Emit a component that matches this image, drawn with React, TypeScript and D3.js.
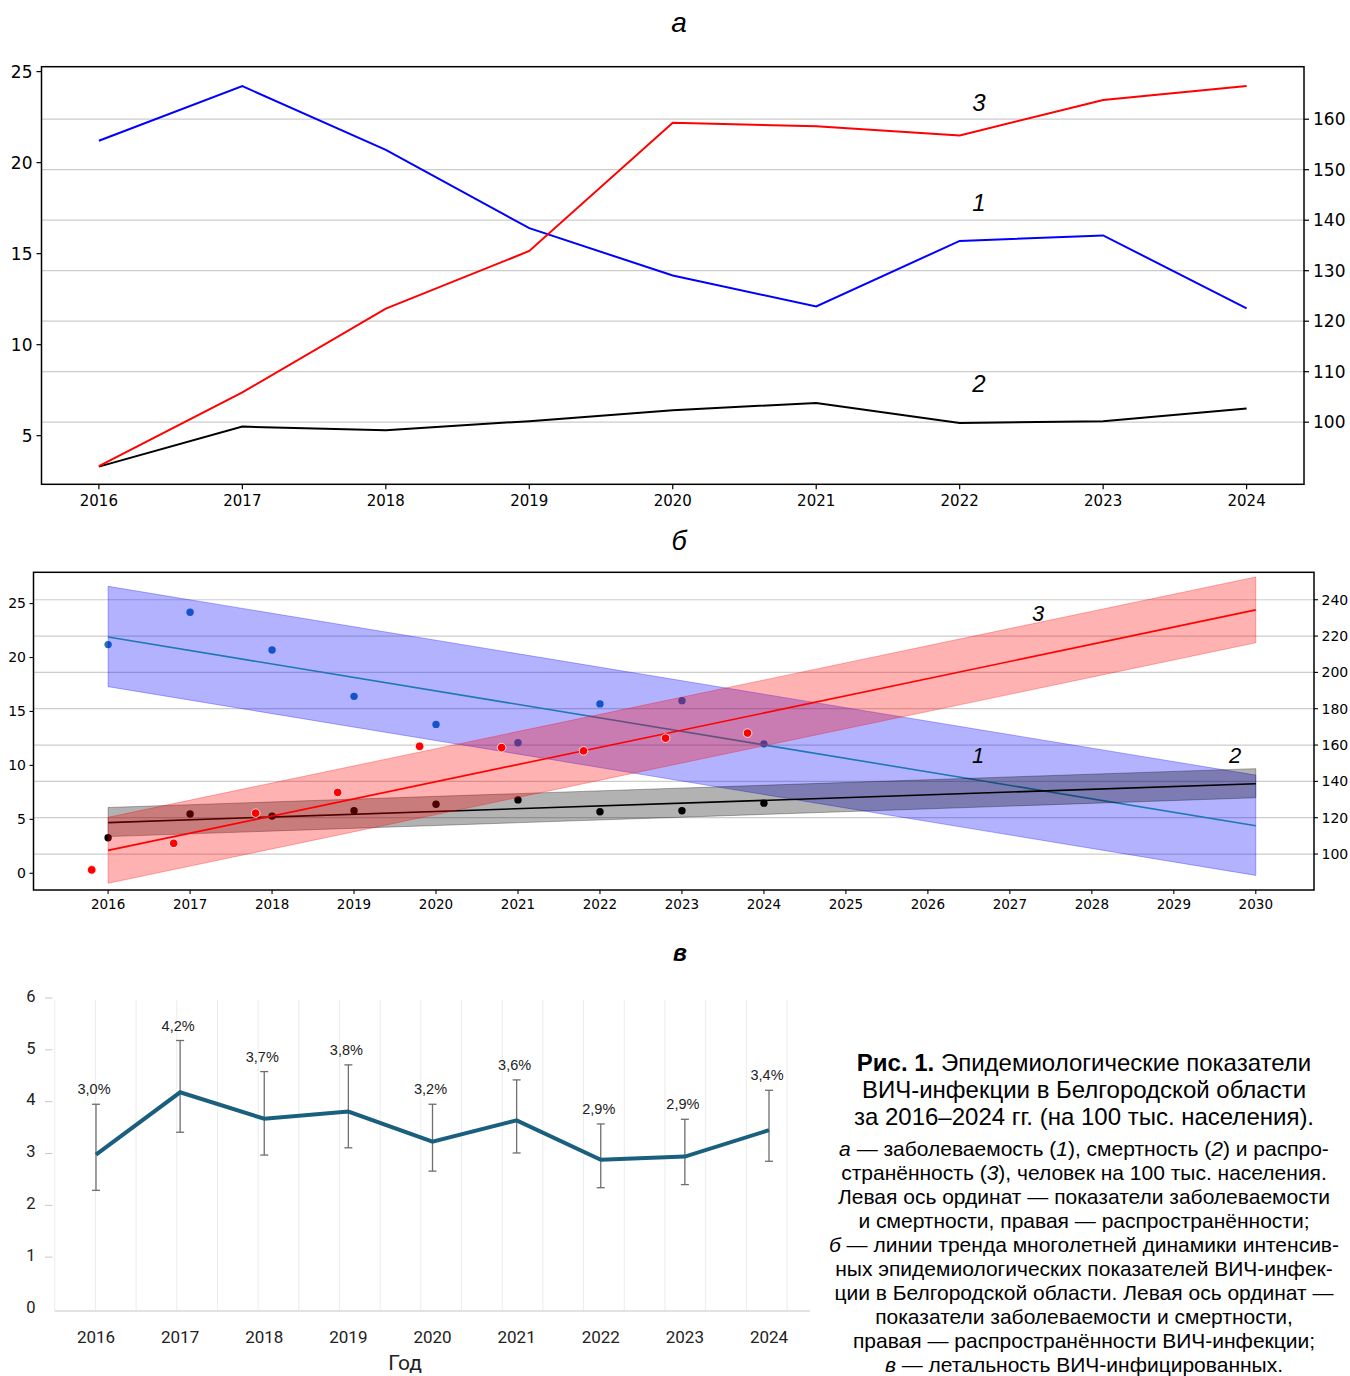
import React from 'react';
import * as d3 from 'd3';

// --- data ---
const years = [2016, 2017, 2018, 2019, 2020, 2021, 2022, 2023, 2024];
const incidence = [21.2, 24.2, 20.7, 16.4, 13.8, 12.1, 15.7, 16.0, 12.0];
const mortality = [3.3, 5.5, 5.3, 5.8, 6.4, 6.8, 5.7, 5.8, 6.5];
const prevalence = [91.3, 105.9, 122.5, 133.9, 159.3, 158.6, 156.8, 163.8, 166.6];

const trendYears = [2016, 2030];
const forecastYears = [2016, 2017, 2018, 2019, 2020, 2021, 2022, 2023, 2024, 2025, 2026, 2027, 2028, 2029, 2030];
const incidenceTrend = [21.9, 4.4];
const incidenceLow = [17.3, -0.2];
const incidenceHigh = [26.6, 9.1];
const mortalityTrend = [4.7, 8.3];
const mortalityLow = [3.4, 7.0];
const mortalityHigh = [6.1, 9.7];
const prevalenceTrend = [102.0, 234.4];
const prevalenceLow = [83.9, 216.3];
const prevalenceHigh = [120.2, 252.5];
const prevalenceShift = 0.2; // red points are drawn 0.2 year to the left

const fatality = [2.98, 4.18, 3.67, 3.81, 3.23, 3.64, 2.88, 2.94, 3.45];
const fatalityLow = [2.29, 3.41, 2.97, 3.11, 2.66, 3.01, 2.34, 2.40, 2.85];
const fatalityHigh = [3.95, 5.18, 4.58, 4.71, 3.95, 4.42, 3.57, 3.66, 4.22];
const fatalityLabels = ['3,0%', '4,2%', '3,7%', '3,8%', '3,2%', '3,6%', '2,9%', '2,9%', '3,4%'];

const aLeftTicks = [5, 10, 15, 20, 25];
const aRightTicks = [100, 110, 120, 130, 140, 150, 160];
const bLeftTicks = [0, 5, 10, 15, 20, 25];
const bRightTicks = [100, 120, 140, 160, 180, 200, 220, 240];
const cTicks = [0, 1, 2, 3, 4, 5, 6];

const MPL = '"DejaVu Sans", sans-serif';
const ARIAL = '"Liberation Sans", Arial, sans-serif';

export default function App() {
  // ---------- panel а ----------
  const aL = 41.5, aR = 1304, aT = 66.7, aB = 484.3;
  const aX = d3.scaleLinear().domain([2015.6, 2024.4]).range([aL, aR]);
  const aYL = d3.scaleLinear().domain([2.33, 25.27]).range([aB, aT]);
  const aYR = d3.scaleLinear().domain([87.7, 170.4]).range([aB, aT]);
  const aLineL = d3.line<number>().x((_, i) => aX(years[i])).y(d => aYL(d));
  const aLineR = d3.line<number>().x((_, i) => aX(years[i])).y(d => aYR(d));

  // ---------- panel б ----------
  const bL = 33.5, bR = 1314, bT = 572.3, bB = 890;
  const bX = d3.scaleLinear().domain([2015.09, 2030.71]).range([bL, bR]);
  const bYL = d3.scaleLinear().domain([-1.55, 27.9]).range([bB, bT]);
  const bYR = d3.scaleLinear().domain([80.2, 255.1]).range([bB, bT]);
  const trendLine = (y: d3.ScaleLinear<number, number>) =>
    d3.line<number>().x((_, i) => bX(trendYears[i])).y(d => y(d));
  const band = (y: d3.ScaleLinear<number, number>, lo: number[], hi: number[]) =>
    d3.area<number>().x((_, i) => bX(trendYears[i])).y0((_, i) => y(lo[i])).y1((_, i) => y(hi[i]))([0, 1]) || '';

  // ---------- panel в ----------
  const cL = 54.7, cR = 787, cT = 1000, cB = 1311;
  const cX = d3.scaleLinear().domain([2016, 2024]).range([96, 769]);
  const cY = d3.scaleLinear().domain([0, 6]).range([1309, 998]);
  const cGrid = d3.scaleLinear().domain([0, 18]).range([cL, cR]);
  const cLine = d3.line<number>().x((_, i) => cX(years[i])).y(d => cY(d));

  const capBig = 24;
  const capSmall = 21;

  return (
    <svg width={1350} height={1376} style={{ position: 'absolute', left: 0, top: 0, background: '#fff' }}>
      <defs>
        <clipPath id="clipB"><rect x={bL} y={bT} width={bR - bL} height={bB - bT} /></clipPath>
      </defs>

      {/* ===== panel а ===== */}
      <text x={679} y={22} dy="0.35em" textAnchor="middle" fontFamily={ARIAL} fontStyle="italic" fontSize={28}>а</text>
      {aRightTicks.map(t => (
        <line key={'ag' + t} x1={aL} x2={aR} y1={aYR(t)} y2={aYR(t)} stroke="#cccccc" strokeWidth={1.2} />
      ))}
      <path d={aLineL(incidence) || ''} fill="none" stroke="#0000ff" strokeWidth={2} />
      <path d={aLineL(mortality) || ''} fill="none" stroke="#000" strokeWidth={2} />
      <path d={aLineR(prevalence) || ''} fill="none" stroke="#ff0000" strokeWidth={2} />
      <rect x={aL} y={aT} width={aR - aL} height={aB - aT} fill="none" stroke="#000" strokeWidth={1.5} />
      {years.map(y => (
        <g key={'ax' + y}>
          <line x1={aX(y)} x2={aX(y)} y1={aB} y2={aB + 5} stroke="#000" strokeWidth={1.2} />
          <text x={aX(y)} y={501} dy="0.35em" textAnchor="middle" fontFamily={MPL} fontSize={15}>{y}</text>
        </g>
      ))}
      {aLeftTicks.map(t => (
        <g key={'al' + t}>
          <line x1={aL - 5} x2={aL} y1={aYL(t)} y2={aYL(t)} stroke="#000" strokeWidth={1.2} />
          <text x={aL - 9} y={aYL(t)} dy="0.35em" textAnchor="end" fontFamily={MPL} fontSize={17}>{t}</text>
        </g>
      ))}
      {aRightTicks.map(t => (
        <g key={'ar' + t}>
          <line x1={aR} x2={aR + 5} y1={aYR(t)} y2={aYR(t)} stroke="#000" strokeWidth={1.2} />
          <text x={aR + 9} y={aYR(t)} dy="0.35em" textAnchor="start" fontFamily={MPL} fontSize={17}>{t}</text>
        </g>
      ))}
      <text x={979} y={103} dy="0.35em" textAnchor="middle" fontFamily={ARIAL} fontStyle="italic" fontSize={24}>3</text>
      <text x={979} y={203} dy="0.35em" textAnchor="middle" fontFamily={ARIAL} fontStyle="italic" fontSize={24}>1</text>
      <text x={979} y={384} dy="0.35em" textAnchor="middle" fontFamily={ARIAL} fontStyle="italic" fontSize={24}>2</text>

      {/* ===== panel б ===== */}
      <text x={679} y={541} dy="0.35em" textAnchor="middle" fontFamily={ARIAL} fontStyle="italic" fontSize={27}>б</text>
      {bRightTicks.map(t => (
        <line key={'bg' + t} x1={bL} x2={bR} y1={bYR(t)} y2={bYR(t)} stroke="#cccccc" strokeWidth={1.2} />
      ))}
      <g clipPath="url(#clipB)">
        {/* left axis: incidence and mortality */}
        {incidence.map((v, i) => (
          <circle key={'bi' + i} cx={bX(years[i])} cy={bYL(v)} r={3.7} fill="#1f77b4" />
        ))}
        {mortality.map((v, i) => (
          <circle key={'bm' + i} cx={bX(years[i])} cy={bYL(v)} r={3.7} fill="#000" />
        ))}
        <path d={band(bYL, incidenceLow, incidenceHigh)} fill="#0000ff" fillOpacity={0.3} stroke="#0000ff" strokeOpacity={0.3} strokeWidth={1} />
        <path d={trendLine(bYL)(incidenceTrend) || ''} fill="none" stroke="#1f77b4" strokeWidth={1.6} />
        <path d={band(bYL, mortalityLow, mortalityHigh)} fill="#000" fillOpacity={0.3} stroke="#000" strokeOpacity={0.3} strokeWidth={1} />
        <path d={trendLine(bYL)(mortalityTrend) || ''} fill="none" stroke="#000" strokeWidth={1.6} />
        {/* right axis: prevalence */}
        <path d={band(bYR, prevalenceLow, prevalenceHigh)} fill="#ff0000" fillOpacity={0.3} stroke="#ff0000" strokeOpacity={0.3} strokeWidth={1} />
        <path d={trendLine(bYR)(prevalenceTrend) || ''} fill="none" stroke="#ff0000" strokeWidth={1.6} />
        {prevalence.map((v, i) => (
          <circle key={'bp' + i} cx={bX(years[i] - prevalenceShift)} cy={bYR(v)} r={4.3} fill="#ff0000" stroke="#fff" strokeWidth={0.8} />
        ))}
      </g>
      <rect x={bL} y={bT} width={bR - bL} height={bB - bT} fill="none" stroke="#000" strokeWidth={1.5} />
      {forecastYears.map(y => (
        <g key={'bx' + y}>
          <line x1={bX(y)} x2={bX(y)} y1={bB} y2={bB + 4} stroke="#000" strokeWidth={1.1} />
          <text x={bX(y)} y={904} dy="0.35em" textAnchor="middle" fontFamily={MPL} fontSize={13.5}>{y}</text>
        </g>
      ))}
      {bLeftTicks.map(t => (
        <g key={'bl' + t}>
          <line x1={bL - 4} x2={bL} y1={bYL(t)} y2={bYL(t)} stroke="#000" strokeWidth={1.1} />
          <text x={bL - 7.5} y={bYL(t)} dy="0.35em" textAnchor="end" fontFamily={MPL} fontSize={14}>{t}</text>
        </g>
      ))}
      {bRightTicks.map(t => (
        <g key={'br' + t}>
          <line x1={bR} x2={bR + 4} y1={bYR(t)} y2={bYR(t)} stroke="#000" strokeWidth={1.1} />
          <text x={bR + 7.5} y={bYR(t)} dy="0.35em" textAnchor="start" fontFamily={MPL} fontSize={14}>{t}</text>
        </g>
      ))}
      <text x={1038} y={613} dy="0.35em" textAnchor="middle" fontFamily={ARIAL} fontStyle="italic" fontSize={22}>3</text>
      <text x={978} y={755} dy="0.35em" textAnchor="middle" fontFamily={ARIAL} fontStyle="italic" fontSize={22}>1</text>
      <text x={1235} y={755} dy="0.35em" textAnchor="middle" fontFamily={ARIAL} fontStyle="italic" fontSize={22}>2</text>

      {/* ===== panel в ===== */}
      <text x={680} y={953} dy="0.35em" textAnchor="middle" fontFamily={ARIAL} fontStyle="italic" fontWeight="bold" fontSize={23}>в</text>
      {d3.range(0, 19).map(k => (
        <line key={'cg' + k} x1={cGrid(k)} x2={cGrid(k)} y1={cT} y2={cB} stroke="#ececec" strokeWidth={1} />
      ))}
      <line x1={cL} x2={810} y1={cB} y2={cB} stroke="#d9d9d9" strokeWidth={1.5} />
      {cTicks.map(t => (
        <g key={'ct' + t}>
          {t > 0 && <line x1={45} x2={52.5} y1={cY(t)} y2={cY(t)} stroke="#c8c8c8" strokeWidth={1} />}
          <text x={31} y={cY(t) - 2} dy="0.35em" textAnchor="middle" fontFamily="Roboto, sans-serif" fontSize={16.5} fill="#222">{t}</text>
        </g>
      ))}
      {fatality.map((v, i) => (
        <g key={'ce' + i} stroke="#6e6e6e" strokeWidth={1.3}>
          <line x1={cX(years[i])} x2={cX(years[i])} y1={cY(fatalityLow[i])} y2={cY(fatalityHigh[i])} />
          <line x1={cX(years[i]) - 4} x2={cX(years[i]) + 4} y1={cY(fatalityLow[i])} y2={cY(fatalityLow[i])} />
          <line x1={cX(years[i]) - 4} x2={cX(years[i]) + 4} y1={cY(fatalityHigh[i])} y2={cY(fatalityHigh[i])} />
        </g>
      ))}
      <path d={cLine(fatality) || ''} fill="none" stroke="#1b5f7f" strokeWidth={4} strokeLinejoin="miter" />
      {fatalityLabels.map((l, i) => (
        <text key={'cl' + i} x={cX(years[i]) - 2} y={cY(fatalityHigh[i]) - 15} dy="0.35em" textAnchor="middle" fontFamily={ARIAL} fontSize={14.5} fill="#222">{l}</text>
      ))}
      {years.map(y => (
        <text key={'cx' + y} x={cX(y)} y={1337} dy="0.35em" textAnchor="middle" fontFamily="Roboto, sans-serif" fontSize={17} fill="#222">{y}</text>
      ))}
      <text x={405} y={1363} dy="0.35em" textAnchor="middle" fontFamily="Roboto, sans-serif" fontSize={21} fill="#222">Год</text>

      {/* ===== caption ===== */}
      <g fontFamily={ARIAL} textAnchor="middle" fill="#000">
        <text x={1084} y={1063} dy="0.35em" fontSize={capBig}><tspan fontWeight="bold">Рис. 1.</tspan> Эпидемиологические показатели</text>
        <text x={1084} y={1090} dy="0.35em" fontSize={capBig}>ВИЧ-инфекции в Белгородской области</text>
        <text x={1084} y={1117} dy="0.35em" fontSize={capBig}>за 2016–2024 гг. (на 100 тыс. населения).</text>
        <text x={1084} y={1149} dy="0.35em" fontSize={capSmall}><tspan fontStyle="italic">а</tspan> — заболеваемость (<tspan fontStyle="italic">1</tspan>), смертность (<tspan fontStyle="italic">2</tspan>) и распро-</text>
        <text x={1084} y={1173} dy="0.35em" fontSize={capSmall}>странённость (<tspan fontStyle="italic">3</tspan>), человек на 100 тыс. населения.</text>
        <text x={1084} y={1197} dy="0.35em" fontSize={capSmall}>Левая ось ординат — показатели заболеваемости</text>
        <text x={1084} y={1221} dy="0.35em" fontSize={capSmall}>и смертности, правая — распространённости;</text>
        <text x={1084} y={1245} dy="0.35em" fontSize={capSmall}><tspan fontStyle="italic">б</tspan> — линии тренда многолетней динамики интенсив-</text>
        <text x={1084} y={1269} dy="0.35em" fontSize={capSmall}>ных эпидемиологических показателей ВИЧ-инфек-</text>
        <text x={1084} y={1293} dy="0.35em" fontSize={capSmall}>ции в Белгородской области. Левая ось ординат —</text>
        <text x={1084} y={1317} dy="0.35em" fontSize={capSmall}>показатели заболеваемости и смертности,</text>
        <text x={1084} y={1341} dy="0.35em" fontSize={capSmall}>правая — распространённости ВИЧ-инфекции;</text>
        <text x={1084} y={1365} dy="0.35em" fontSize={capSmall}><tspan fontStyle="italic">в</tspan> — летальность ВИЧ-инфицированных.</text>
      </g>
    </svg>
  );
}
